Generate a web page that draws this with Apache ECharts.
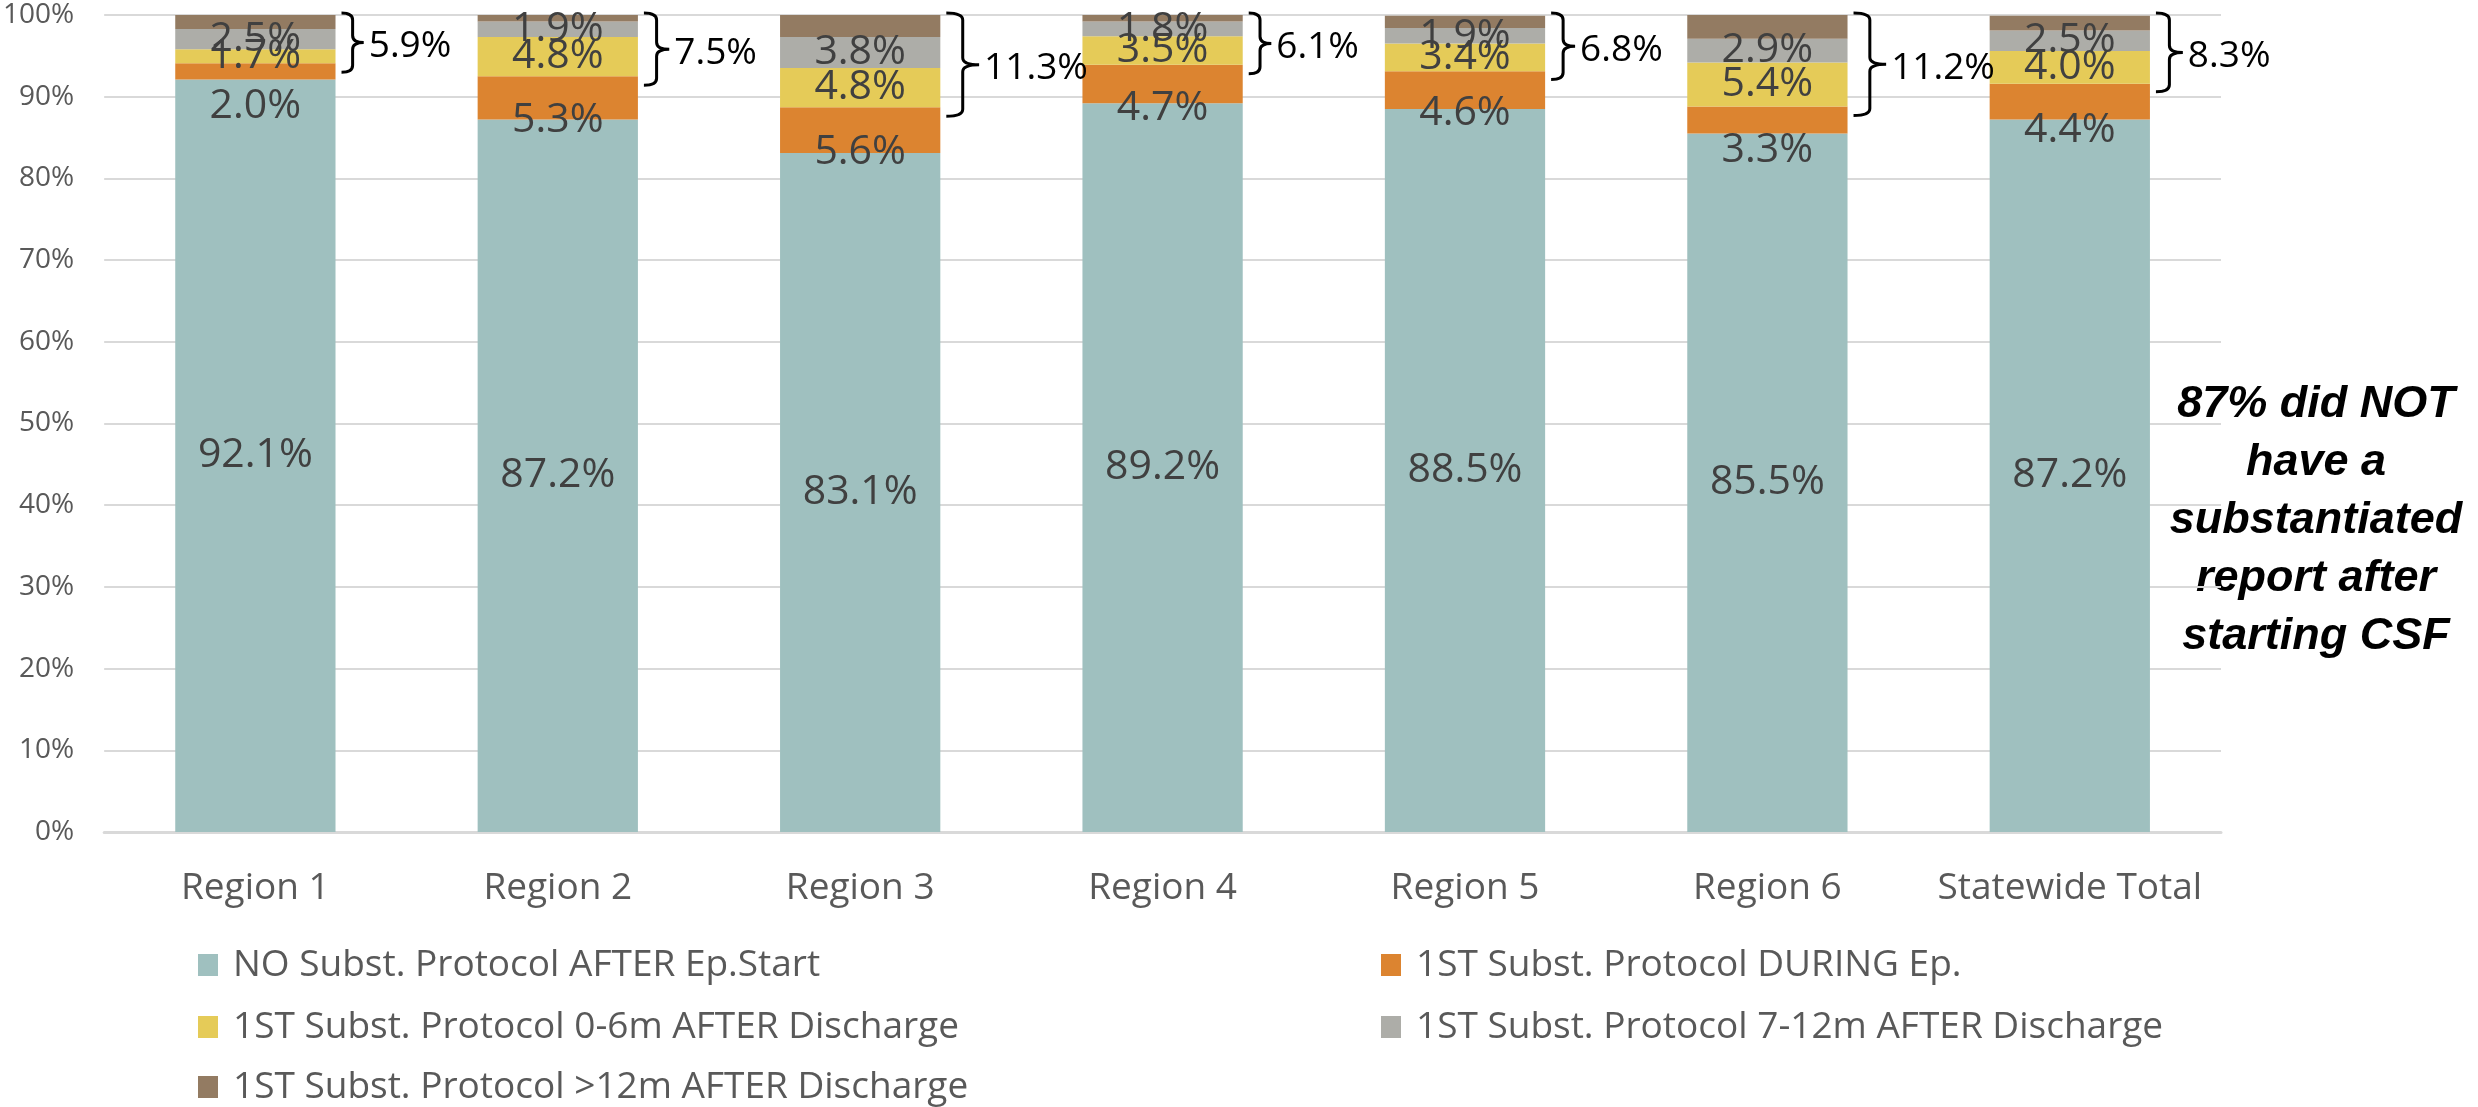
<!DOCTYPE html>
<html>
<head>
<meta charset="utf-8">
<title>Substantiated Protocol After CSF Start</title>
<script src="https://cdn.jsdelivr.net/npm/echarts@6/dist/echarts.min.js"></script>
<style>
  html, body { margin: 0; padding: 0; background: #fff; }
  #chart { width: 2478px; height: 1107px; }
</style>
</head>
<body>
<div id="chart"></div>
<script>
// Categories and the share of each outcome (percent of children)
const categories = ['Region 1', 'Region 2', 'Region 3', 'Region 4', 'Region 5', 'Region 6', 'Statewide Total'];
const seriesNames = [
  'NO Subst. Protocol AFTER Ep.Start',
  '1ST Subst. Protocol DURING Ep.',
  '1ST Subst. Protocol 0-6m AFTER Discharge',
  '1ST Subst. Protocol 7-12m AFTER Discharge',
  '1ST Subst. Protocol >12m AFTER Discharge'
];
const noSubst     = [92.1, 87.2, 83.1, 89.2, 88.5, 85.5, 87.2];
const duringEp    = [2.0, 5.3, 5.6, 4.7, 4.6, 3.3, 4.4];
const after0to6   = [1.7, 4.8, 4.8, 3.5, 3.4, 5.4, 4.0];
const after7to12  = [2.5, 1.9, 3.8, 1.8, 1.9, 2.9, 2.5];
const after12plus = [1.7, 0.8, 2.7, 0.8, 1.5, 2.9, 1.8];
const yTickLabels = ['0%', '10%', '20%', '30%', '40%', '50%', '60%', '70%', '80%', '90%', '100%'];
const noteText = '87% did NOT\nhave a\nsubstantiated\nreport after\nstarting CSF';

const colors = ['#9fc0bf', '#dc8430', '#e5cb58', '#adada8', '#937b62'];
const FONT = '"Open Sans", "Liberation Sans", sans-serif';
const BAR_RATIO = 0.53;

// Share with a report after discharge (sum of the three post-discharge groups)
const afterDischarge = categories.map((c, i) =>
  Math.round((after0to6[i] + after7to12[i] + after12plus[i]) * 10) / 10);

// Small nudges for the labels of the "during episode" group
const duringLabelShift = [27, 1, -1, 5, 4, 17, 11];

const pct = p => p.value.toFixed(1) + '%';

const segLabel = {
  show: true,
  position: 'inside',
  formatter: pct,
  color: '#404040',
  fontSize: 41,
  fontFamily: FONT
};

function barSeries(name, values, color, label) {
  return {
    name: name,
    type: 'bar',
    stack: 'total',
    barWidth: (BAR_RATIO * 100) + '%',
    itemStyle: { color: color },
    label: label,
    emphasis: { disabled: true },
    data: values
  };
}

const series = [
  barSeries(seriesNames[0], noSubst, colors[0], segLabel),
  barSeries(seriesNames[1], duringEp.map((v, i) => ({
    value: v,
    label: { offset: [0, duringLabelShift[i]] }
  })), colors[1], Object.assign({}, segLabel, {
    position: ['50%', '100%'], align: 'center', verticalAlign: 'middle'
  })),
  barSeries(seriesNames[2], after0to6, colors[2], segLabel),
  barSeries(seriesNames[3], after7to12, colors[3], segLabel),
  barSeries(seriesNames[4], after12plus, colors[4], { show: false }),
  {
    // Curly braces grouping the post-discharge shares, with their total
    type: 'custom',
    name: 'afterDischargeBrace',
    z: 10,
    silent: true,
    encode: { x: 0, y: 1 },
    data: categories.map((c, i) => [i, afterDischarge[i]]),
    renderItem: function (params, api) {
      const i = api.value(0);
      const s = api.value(1);
      const top = api.coord([i, 100]);
      const bot = api.coord([i, 100 - s]);
      const bw = api.size([1, 0])[0] * BAR_RATIO;
      const y0 = top[1] - 2;
      const y1 = bot[1] + 9;
      const h = y1 - y0;
      const ym = (y0 + y1) / 2;
      // taller braces are also a little deeper
      const depth = 0.12 * h + 4;
      const xl = top[0] + bw / 2 + 6;
      const xv = xl + depth;
      const xt = xv + depth;
      const r = 7;
      const d = 'M' + xl + ',' + y0 +
        ' Q' + xv + ',' + y0 + ' ' + xv + ',' + (y0 + r) +
        ' L' + xv + ',' + (ym - r) +
        ' Q' + xv + ',' + ym + ' ' + xt + ',' + ym +
        ' Q' + xv + ',' + ym + ' ' + xv + ',' + (ym + r) +
        ' L' + xv + ',' + (y1 - r) +
        ' Q' + xv + ',' + y1 + ' ' + xl + ',' + y1;
      return {
        type: 'group',
        children: [
          { type: 'path', shape: { pathData: d },
            style: { stroke: '#000', lineWidth: 3, fill: 'none' } },
          { type: 'text',
            style: { text: s.toFixed(1) + '%', x: xt + 5, y: ym + 4,
                     align: 'left', verticalAlign: 'middle',
                     fontSize: 37, fontFamily: FONT, fill: '#000' } }
        ]
      };
    }
  }
];

// Legend laid out as two columns of entries
const legendSlots = [
  { name: seriesNames[0], left: 193,  top: 940 },
  { name: seriesNames[1], left: 1376, top: 940 },
  { name: seriesNames[2], left: 193,  top: 1002 },
  { name: seriesNames[3], left: 1376, top: 1002 },
  { name: seriesNames[4], left: 193,  top: 1062 }
];
const legends = legendSlots.map(s => ({
  data: [s.name],
  left: s.left,
  top: s.top,
  orient: 'horizontal',
  icon: 'rect',
  itemWidth: 20,
  itemHeight: 22,
  selectedMode: false,
  textStyle: { fontSize: 37, color: '#595959', fontFamily: FONT, lineHeight: 40, padding: [0, 0, 0, 10] }
}));

const chart = echarts.init(document.getElementById('chart'), null, { renderer: 'canvas' });
chart.setOption({
  animation: false,
  backgroundColor: '#fff',
  grid: { left: 101, right: 257, top: 15, bottom: 275, containLabel: false },
  xAxis: {
    type: 'category',
    data: categories,
    axisLine: { lineStyle: { color: '#d9d9d9', width: 3 } },
    axisTick: { show: false },
    axisLabel: { color: '#595959', fontSize: 37, fontFamily: FONT, margin: 38, interval: 0 }
  },
  yAxis: {
    type: 'value',
    min: 0,
    max: 100,
    interval: 10,
    axisLine: { show: false },
    axisTick: { show: false },
    splitLine: { lineStyle: { color: '#d9d9d9', width: 2 } },
    axisLabel: {
      color: '#595959', fontSize: 28, fontFamily: FONT, margin: 30,
      formatter: v => yTickLabels[Math.round(v / 10)]
    }
  },
  legend: legends,
  graphic: [{
    type: 'text',
    x: 2316,
    y: 521,
    silent: true,
    style: {
      text: noteText,
      align: 'center',
      verticalAlign: 'middle',
      fontSize: 45,
      fontWeight: 'bold',
      fontStyle: 'italic',
      fontFamily: '"Liberation Sans", Arial, sans-serif',
      lineHeight: 58,
      fill: '#000'
    }
  }],
  series: series
});
</script>
</body>
</html>
